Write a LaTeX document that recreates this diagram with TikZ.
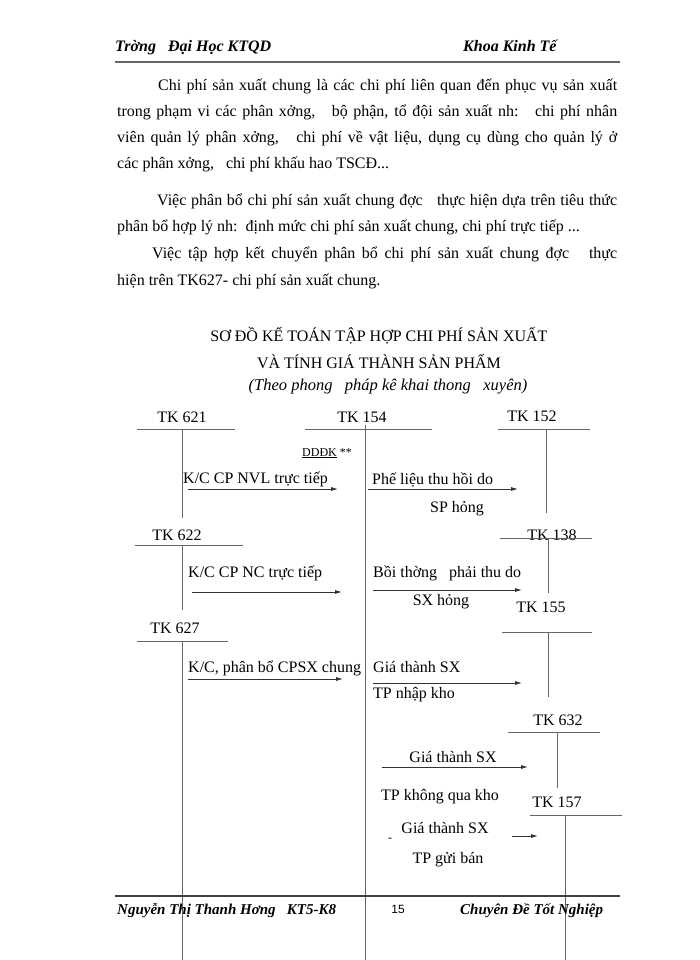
\documentclass[tikz,border=0pt]{standalone}
\usepackage{fontspec}
\setmainfont{Liberation Serif}
\newfontfamily\sansf{Liberation Sans}
\usetikzlibrary{arrows.meta}
\newcommand\bodyf{\fontsize{16}{19}\selectfont}
\newcommand\hdf{\fontsize{16}{18}\selectfont\bfseries\itshape}
\newcommand\ftf{\fontsize{15}{17}\selectfont\bfseries\itshape}
\newcommand\smf{\fontsize{12}{14}\selectfont}
\tikzset{
  txt/.style={inner sep=0pt, anchor=base west, font=\bodyf},
  ctxt/.style={inner sep=0pt, anchor=base, font=\bodyf},
  acct/.style={draw=black!60, line width=0.9pt},
  flow/.style={draw=black!80, line width=0.8pt, -{Latex[length=7pt,width=4pt]}},
  rule/.style={draw=black!75, line width=1.4pt}
}
\begin{document}
\begin{tikzpicture}[x=1pt,y=-1pt]
\useasboundingbox (0,0) rectangle (700,960);
\fill[white] (0,0) rectangle (700,960);
% header
\node[txt, font=\hdf] (h1) at (115,52) {Trờng\ \ \ Đại Học KTQD};
\node[txt, font=\hdf] (h2) at (463,52) {Khoa Kinh Tế};
\coordinate (hl1) at (115,62); \coordinate (hl2) at (620,62);
\draw[draw=black!60, line width=1.2pt] (hl1) -- (hl2);
% body text
\node[txt] (p1) at (158,91) {\makebox[459pt][s]{Chi phí sản xuất chung là các chi phí liên quan đến phục vụ sản xuất}};
\node[txt] (p2) at (117,117) {\makebox[500pt][s]{trong phạm vi các phân xởng,\ \ \ bộ phận, tổ đội sản xuất nh:\ \ \ chi phí nhân}};
\node[txt] (p3) at (117,143) {\makebox[500pt][s]{viên quản lý phân xởng,\ \ \ chi phí về vật liệu, dụng cụ dùng cho quản lý ở}};
\node[txt] (p4) at (117,169) {các phân xởng,\ \ \ chi phí khấu hao TSCĐ...};
\node[txt] (p5) at (157,205) {\makebox[460pt][s]{Việc phân bổ chi phí sản xuất chung đợc\ \ \ thực hiện dựa trên tiêu thức}};
\node[txt] (p6) at (117,231) {phân bổ hợp lý nh:\ \ định mức chi phí sản xuất chung, chi phí trực tiếp ...};
\node[txt] (p7) at (152,258) {\makebox[465pt][s]{Việc tập hợp kết chuyển phân bổ chi phí sản xuất chung đợc\ \ \ thực}};
\node[txt] (p8) at (117,285) {hiện trên TK627- chi phí sản xuất chung.};
% title
\node[ctxt] (t1) at (379,341) {SƠ ĐỒ KẾ TOÁN TẬP HỢP CHI PHÍ SẢN XUẤT};
\node[ctxt] (t2) at (379,368) {VÀ TÍNH GIÁ THÀNH SẢN PHẨM};
\node[ctxt, font=\fontsize{16.5}{19}\selectfont\itshape] (t3) at (388,390) {(Theo phong\ \ \ pháp kê khai thong\ \ \ xuyên)};
% account labels
\node[ctxt] (k621) at (182,422) {TK 621};
\node[ctxt] (k154) at (362,422) {TK 154};
\node[ctxt] (k152) at (532,421) {TK 152};
\node[ctxt] (k622) at (177,540) {TK 622};
\node[ctxt] (k138) at (552,540) {TK 138};
\node[ctxt] (k155) at (541,612) {TK 155};
\node[ctxt] (k627) at (175,633) {TK 627};
\node[ctxt] (k632) at (558,725) {TK 632};
\node[ctxt] (k157) at (557,807) {TK 157};
% T-account lines
\coordinate (a1) at (137,429); \coordinate (a2) at (235,429); \coordinate (a3) at (182,429); \coordinate (a4) at (182,518);
\draw[acct] (a1) -- (a2); \draw[acct] (a3) -- (a4);
\coordinate (b1) at (305,429); \coordinate (b2) at (432,429); \coordinate (b3) at (365,425); \coordinate (b4) at (365,960);
\draw[acct] (b1) -- (b2); \draw[acct] (b3) -- (b4);
\coordinate (c1) at (498,429); \coordinate (c2) at (590,429); \coordinate (c3) at (546,429); \coordinate (c4) at (546,513);
\draw[acct] (c1) -- (c2); \draw[acct] (c3) -- (c4);
\coordinate (d1) at (135,545); \coordinate (d2) at (243,545); \coordinate (d3) at (182,545); \coordinate (d4) at (182,610);
\draw[acct] (d1) -- (d2); \draw[acct] (d3) -- (d4);
\coordinate (e1) at (500,538); \coordinate (e2) at (592,538); \coordinate (e3) at (548,538); \coordinate (e4) at (548,593);
\draw[acct] (e1) -- (e2); \draw[acct] (e3) -- (e4);
\coordinate (f1) at (502,632); \coordinate (f2) at (592,632); \coordinate (f3) at (548,632); \coordinate (f4) at (548,697);
\draw[acct] (f1) -- (f2); \draw[acct] (f3) -- (f4);
\coordinate (g1) at (137,641); \coordinate (g2) at (228,641); \coordinate (g3) at (182,641); \coordinate (g4) at (182,960);
\draw[acct] (g1) -- (g2); \draw[acct] (g3) -- (g4);
\coordinate (i1) at (508,732); \coordinate (i2) at (600,732); \coordinate (i3) at (557,732); \coordinate (i4) at (557,788);
\draw[acct] (i1) -- (i2); \draw[acct] (i3) -- (i4);
\coordinate (j1) at (530,815); \coordinate (j2) at (622,815); \coordinate (j3) at (565,815); \coordinate (j4) at (565,960);
\draw[acct] (j1) -- (j2); \draw[acct] (j3) -- (j4);
% flow labels
\node[txt, font=\smf] (dd) at (302,456) {\underline{DDĐK} **};
\node[txt] (l1) at (183,483) {K/C CP NVL trực tiếp};
\node[txt] (l2) at (372,484) {Phế liệu thu hồi do};
\node[ctxt] (l2b) at (457,512) {SP hỏng};
\node[txt] (l3) at (188,577) {K/C CP NC trực tiếp};
\node[txt] (l4) at (373,577) {Bồi thờng\ \ \ phải thu do};
\node[ctxt] (l4b) at (441,605) {SX hỏng};
\node[txt] (l5) at (188,672) {K/C, phân bổ CPSX chung};
\node[txt] (l6) at (373,672) {Giá thành SX};
\node[txt] (l6b) at (373,698) {TP nhập kho};
\node[ctxt] (l7) at (453,762) {Giá thành SX};
\node[ctxt] (l7b) at (440,800) {TP không qua kho};
\node[ctxt, font=\smf] (dash) at (390,841) {-};
\node[ctxt] (l8) at (445,833) {Giá thành SX};
\node[ctxt] (l8b) at (448,863) {TP gửi bán};
% arrows
\coordinate (r1s) at (188,489); \coordinate (r1e) at (338,489); \draw[flow] (r1s) -- (r1e);
\coordinate (r2s) at (368,489); \coordinate (r2e) at (518,489); \draw[flow] (r2s) -- (r2e);
\coordinate (r3s) at (192,592); \coordinate (r3e) at (342,592); \draw[flow] (r3s) -- (r3e);
\coordinate (r4s) at (373,590); \coordinate (r4e) at (522,590); \draw[flow] (r4s) -- (r4e);
\coordinate (r5s) at (188,679); \coordinate (r5e) at (343,679); \draw[flow] (r5s) -- (r5e);
\coordinate (r6s) at (373,683); \coordinate (r6e) at (522,683); \draw[flow] (r6s) -- (r6e);
\coordinate (r7s) at (382,767); \coordinate (r7e) at (528,767); \draw[flow] (r7s) -- (r7e);
\coordinate (r8s) at (512,836); \coordinate (r8e) at (538,836); \draw[flow] (r8s) -- (r8e);
% footer
\coordinate (fl1) at (115,896); \coordinate (fl2) at (620,896);
\draw[rule] (fl1) -- (fl2);
\node[txt, font=\ftf] (f1) at (117,914) {Nguyễn Thị Thanh Hơng\ \ \ KT5-K8};
\node[ctxt, font=\sansf\fontsize{12}{14}\selectfont] (f2) at (398,913) {15};
\node[txt, font=\ftf] (f3) at (460,914) {Chuyên Đề Tốt Nghiệp};
\end{tikzpicture}
\end{document}
